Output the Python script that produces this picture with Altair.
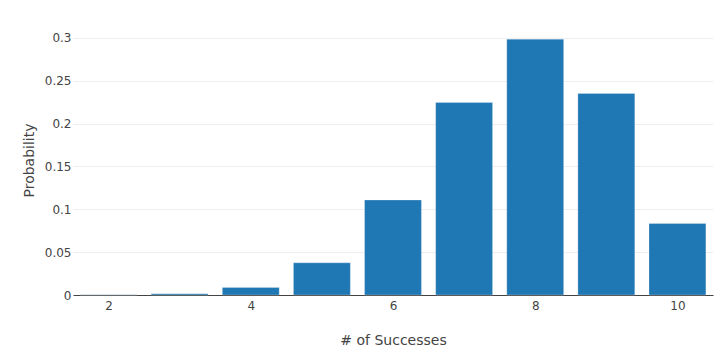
import altair as alt
import pandas as pd

successes = [2, 3, 4, 5, 6, 7, 8, 9, 10]
probability = [0.0002, 0.0014, 0.0088, 0.0375, 0.1108, 0.2245, 0.2985, 0.2352, 0.0834]

df = pd.DataFrame({"k": successes, "p": probability})

FONT = "DejaVu Sans"
TXT = "#444444"

chart = (
    alt.Chart(df)
    .transform_calculate(x0="datum.k - 0.4", x1="datum.k + 0.4")
    .mark_bar(color="#1f77b4", stroke="#ffffff", strokeOpacity=0.5, strokeWidth=0.5)
    .encode(
        x=alt.X(
            "x0:Q",
            scale=alt.Scale(domain=[1.5, 10.5], nice=False, zero=False),
            axis=alt.Axis(
                title="# of Successes",
                values=[2, 4, 6, 8, 10],
                grid=False,
                ticks=False,
                domain=True,
                domainColor=TXT,
                domainWidth=1,
                labelFont=FONT,
                labelFontSize=12,
                labelColor=TXT,
                labelPadding=5,
                titleFont=FONT,
                titleFontSize=14,
                titleFontWeight="normal",
                titleColor=TXT,
                titlePadding=22,
            ),
        ),
        x2="x1:Q",
        y=alt.Y(
            "p:Q",
            scale=alt.Scale(domain=[0, 0.315], nice=False),
            axis=alt.Axis(
                title="Probability",
                values=[0, 0.05, 0.1, 0.15, 0.2, 0.25, 0.3],
                format="~g",
                grid=True,
                gridColor="#eeeeee",
                gridWidth=1,
                ticks=False,
                domain=False,
                labelFont=FONT,
                labelFontSize=12,
                labelColor=TXT,
                labelPadding=2,
                titleFont=FONT,
                titleFontSize=14,
                titleFontWeight="normal",
                titleColor=TXT,
                titlePadding=8,
            ),
        ),
        y2=alt.Y2(datum=0),
    )
    .properties(
        width=640,
        height=270,
        autosize=alt.AutoSizeParams(type="none"),
        padding={"left": 65, "top": 17, "right": 4, "bottom": 56},
    )
    .configure_view(stroke=None)
)

chart.save("out.html", embed_options={"renderer": "svg", "actions": False})
